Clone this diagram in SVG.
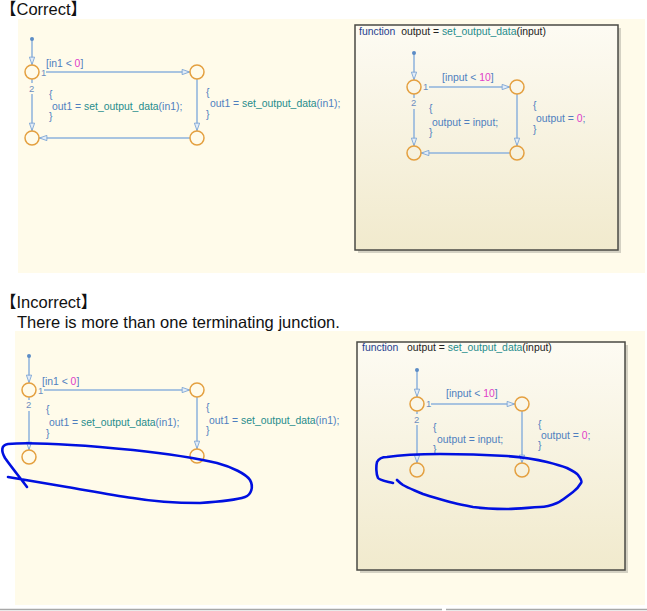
<svg xmlns="http://www.w3.org/2000/svg" width="647" height="611" viewBox="0 0 647 611">
<style>
.hd{font-family:"Liberation Sans","Noto Sans CJK JP",Arial,sans-serif;font-size:16.5px;fill:#111}
.t{font-family:"Liberation Sans",Arial,sans-serif;font-size:10.4px;fill:#4f7fbf;white-space:pre}
.n{font-family:"Liberation Sans",Arial,sans-serif;font-size:9.5px;fill:#6d8fbf}
.fk{fill:#1f3f8f}
.tl{fill:#1f8c8c}
.pk{fill:#e040c8}
.dk{fill:#222}
.j{fill:none;stroke:#e4a040;stroke-width:1.5}
.c{stroke:#8db2dc;stroke-width:1.5;fill:none}
.ca{stroke:#8db2dc;stroke-width:1.5;fill:none;marker-end:url(#ah)}
.dot{fill:#5b8cc6}
.panel{fill:#fffbea}
.fbox{fill:url(#fg);stroke:#4a4a44;stroke-width:1.5}
.sh{fill:#b8b6a8;opacity:0.6}
.ink{fill:none;stroke:#0010e0;stroke-width:2.6;stroke-linecap:round;stroke-linejoin:round}
</style>
<defs>
<linearGradient id="fg" x1="0" y1="0" x2="0" y2="1">
<stop offset="0" stop-color="#fdfbf3"/>
<stop offset="1" stop-color="#f1eacd"/>
</linearGradient>
<marker id="ah" viewBox="0 0 10 8" refX="10" refY="4" markerWidth="9" markerHeight="7" markerUnits="userSpaceOnUse" orient="auto">
<path d="M1,1 L9.5,4 L1,7 Z" fill="#e3edf8" stroke="#7aa3d3" stroke-width="1"/>
</marker>
</defs>

<rect width="647" height="611" fill="#ffffff"/>

<!-- Headings -->
<text class="hd" x="0" y="15">【Correct】</text>
<text class="hd" x="0" y="308">【Incorrect】</text>
<text class="hd" x="17" y="328">There is more than one terminating junction.</text>

<!-- Panels -->
<rect class="panel" x="18" y="19" width="627" height="254"/>
<rect class="panel" x="15" y="331" width="630" height="274"/>
<line x1="0" y1="609.5" x2="442" y2="609.5" stroke="#a8a8a8" stroke-width="1.5"/>
<line x1="446" y1="609.5" x2="647" y2="609.5" stroke="#a8a8a8" stroke-width="1.5"/>

<!-- Function boxes -->
<g id="fbox-correct">
<rect class="sh" x="358" y="28" width="263" height="225"/>
<rect class="fbox" x="355" y="25" width="263" height="225"/>
<text class="t dk" x="359" y="35"><tspan class="fk">function</tspan>  output = <tspan class="tl">set_output_data</tspan>(input)</text>
</g>
<g id="fbox-incorrect">
<rect class="sh" x="360" y="345" width="268" height="228"/>
<rect class="fbox" x="357" y="342" width="268" height="228"/>
<text class="t dk" x="362" y="351"><tspan class="fk">function</tspan>   output = <tspan class="tl">set_output_data</tspan>(input)</text>
</g>

<!-- Connectors -->
<g id="connectors">
<!-- correct, left -->
<line class="ca" x1="32" y1="40" x2="32" y2="65"/>
<line class="ca" x1="46" y1="72" x2="190" y2="72"/>
<line class="c" x1="32" y1="79" x2="32" y2="83"/>
<line class="ca" x1="32" y1="94" x2="32" y2="131"/>
<line class="ca" x1="197" y1="79" x2="197" y2="131"/>
<line class="ca" x1="190" y1="138" x2="39" y2="138"/>
<!-- correct, function -->
<line class="ca" x1="414" y1="54" x2="414" y2="80"/>
<line class="ca" x1="429" y1="87" x2="510" y2="87"/>
<line class="c" x1="414" y1="94" x2="414" y2="98"/>
<line class="ca" x1="414" y1="109" x2="414" y2="146"/>
<line class="ca" x1="517" y1="94" x2="517" y2="146"/>
<line class="ca" x1="510" y1="153" x2="421" y2="153"/>
<!-- incorrect, left -->
<line class="ca" x1="29" y1="357" x2="29" y2="383"/>
<line class="ca" x1="44" y1="390" x2="190" y2="390"/>
<line class="c" x1="29" y1="397" x2="29" y2="400"/>
<line class="ca" x1="29" y1="411" x2="29" y2="450"/>
<line class="ca" x1="197" y1="397" x2="197" y2="449"/>
<!-- incorrect, function -->
<line class="ca" x1="417" y1="371" x2="417" y2="397"/>
<line class="ca" x1="431" y1="404" x2="515" y2="404"/>
<line class="c" x1="417" y1="411" x2="417" y2="414"/>
<line class="ca" x1="417" y1="425" x2="417" y2="463"/>
<line class="ca" x1="522" y1="411" x2="522" y2="463"/>
</g>

<!-- Junctions (correct, left) -->
<g id="c-dot"><circle class="dot" cx="32" cy="39" r="2"/></g>
<g id="c-j1"><circle class="j" cx="32" cy="72" r="7"/></g>
<g id="c-j2"><circle class="j" cx="197" cy="72" r="7"/></g>
<g id="c-j3"><circle class="j" cx="197" cy="138" r="7"/></g>
<g id="c-j4"><circle class="j" cx="32" cy="138" r="7"/></g>
<!-- Junctions (correct, function) -->
<g id="cf-dot"><circle class="dot" cx="414" cy="53" r="2"/></g>
<g id="cf-j1"><circle class="j" cx="414" cy="87" r="7"/></g>
<g id="cf-j2"><circle class="j" cx="517" cy="87" r="7"/></g>
<g id="cf-j3"><circle class="j" cx="517" cy="153" r="7"/></g>
<g id="cf-j4"><circle class="j" cx="414" cy="153" r="7"/></g>
<!-- Junctions (incorrect, left) -->
<g id="i-dot"><circle class="dot" cx="29" cy="356" r="2"/></g>
<g id="i-j1"><circle class="j" cx="29" cy="390" r="7"/></g>
<g id="i-j2"><circle class="j" cx="197" cy="390" r="7"/></g>
<g id="i-j3"><circle class="j" cx="197" cy="456" r="7"/></g>
<g id="i-j4"><circle class="j" cx="29" cy="457" r="7"/></g>
<!-- Junctions (incorrect, function) -->
<g id="if-dot"><circle class="dot" cx="417" cy="370" r="2"/></g>
<g id="if-j1"><circle class="j" cx="417" cy="404" r="7"/></g>
<g id="if-j2"><circle class="j" cx="522" cy="404" r="7"/></g>
<g id="if-j3"><circle class="j" cx="522" cy="470" r="7"/></g>
<g id="if-j4"><circle class="j" cx="417" cy="470" r="7"/></g>

<!-- Labels (correct, left) -->
<g id="c-labels">
<text class="t" x="46" y="67">[in1 &lt; <tspan class="pk">0</tspan>]</text>
<text class="n" x="41" y="76">1</text>
<text class="n" x="29" y="92">2</text>
<text class="t" x="49" y="98">{</text>
<text class="t" x="52" y="110">out1 = <tspan class="tl">set_output_data</tspan>(in1);</text>
<text class="t" x="49" y="120">}</text>
<text class="t" x="206" y="96">{</text>
<text class="t" x="210" y="107">out1 = <tspan class="tl">set_output_data</tspan>(in1);</text>
<text class="t" x="206" y="118">}</text>
</g>
<!-- Labels (correct, function) -->
<g id="cf-labels">
<text class="t" x="442" y="81">[input &lt; <tspan class="pk">10</tspan>]</text>
<text class="n" x="423" y="90">1</text>
<text class="n" x="411" y="106">2</text>
<text class="t" x="429" y="112">{</text>
<text class="t" x="432" y="126">output = input;</text>
<text class="t" x="429" y="136">}</text>
<text class="t" x="533" y="109">{</text>
<text class="t" x="536" y="122">output = <tspan class="pk">0</tspan>;</text>
<text class="t" x="533" y="133">}</text>
</g>
<!-- Labels (incorrect, left) -->
<g id="i-labels">
<text class="t" x="42" y="385">[in1 &lt; <tspan class="pk">0</tspan>]</text>
<text class="n" x="38" y="394">1</text>
<text class="n" x="26" y="408">2</text>
<text class="t" x="46" y="413">{</text>
<text class="t" x="49" y="426">out1 = <tspan class="tl">set_output_data</tspan>(in1);</text>
<text class="t" x="46" y="437">}</text>
<text class="t" x="206" y="411">{</text>
<text class="t" x="209" y="424">out1 = <tspan class="tl">set_output_data</tspan>(in1);</text>
<text class="t" x="206" y="434">}</text>
</g>
<!-- Labels (incorrect, function) -->
<g id="if-labels">
<text class="t" x="446" y="397">[input &lt; <tspan class="pk">10</tspan>]</text>
<text class="n" x="426" y="407">1</text>
<text class="n" x="414" y="423">2</text>
<text class="t" x="433" y="431">{</text>
<text class="t" x="437" y="443">output = input;</text>
<text class="t" x="433" y="453">}</text>
<text class="t" x="538" y="428">{</text>
<text class="t" x="541" y="439">output = <tspan class="pk">0</tspan>;</text>
<text class="t" x="538" y="449">}</text>
</g>

<!-- Hand-drawn ink marks -->
<g id="ink">
<path class="ink" d="M27,487 C22,480 12,468 5,458 C1,451 1,445 8,444 C30,442 70,444 133,450 C170,454 200,459 217,463 C232,467 246,474 250,480 C254,487 251,495 245,497 C236,500 215,502 200,503 C180,503 150,501 133,498 C110,495 85,490 67,487 C50,484 25,480 8,477"/>
<path class="ink" d="M393,483 C385,481 379,480 378,478 C376,474 376,466 377,462 C379,458 383,457 387,457 C400,455 420,454 440,454 C470,454 490,455 507,456 C520,457 535,459 547,462 C555,464 562,466 567,468 C573,471 577,473 578,475 C581,479 582,482 581,483 C578,488 576,490 573,492 C566,497 562,501 557,503 C550,506 545,507 540,507 C525,508 515,509 507,509 C490,509 480,508 473,507 C463,505 457,504 450,502 C440,499 432,497 423,494 C414,490 408,488 403,485 C400,483 398,481 397,480"/>
</g>
</svg>
